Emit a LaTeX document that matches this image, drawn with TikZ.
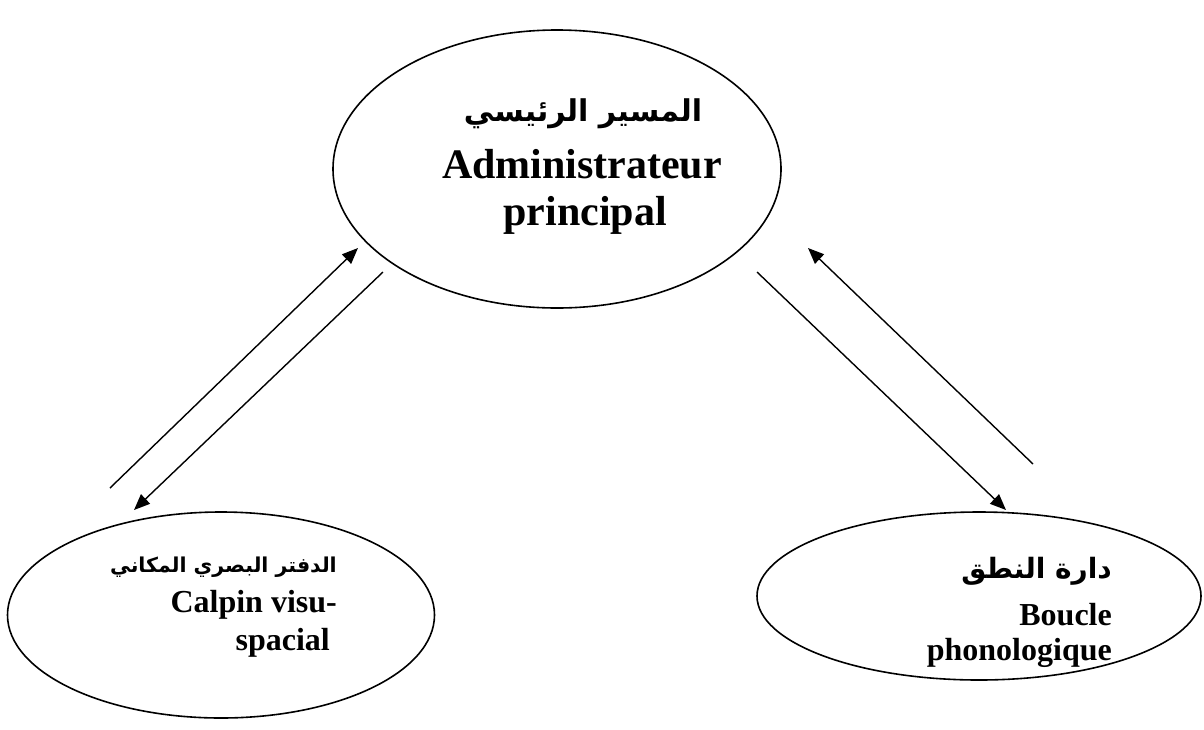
\documentclass[tikz,border=0pt]{standalone}
\usepackage{fontspec}
\setmainfont{Liberation Serif}
\newfontfamily\arabicfont[Script=Arabic]{DejaVu Sans}
\TeXXeTstate=1
\usetikzlibrary{shapes.geometric}
\usetikzlibrary{arrows.meta}
\tikzset{
  bubble/.style={draw,ellipse,line width=1.6pt,inner sep=0pt},
  flow/.style={line width=1.4pt,-{Triangle[length=16pt,width=13pt]}},
  bigtxt/.style={font=\bfseries\fontsize{42}{47}\selectfont,inner sep=0pt,anchor=base},
  smalltxt/.style={font=\bfseries\fontsize{32}{36}\selectfont,inner sep=0pt,anchor=base east},
}

\begin{document}
\begin{tikzpicture}[x=1pt,y=-1pt]
    \useasboundingbox (0,0) rectangle (1204,729);
    % the three ellipses
    \node[bubble,minimum width=448pt,minimum height=278pt] (admin) at (557,169) {};
    \node[bubble,minimum width=427pt,minimum height=206pt] (calpin) at (221,615) {};
    \node[bubble,minimum width=444pt,minimum height=168pt] (boucle) at (979,596) {};
    % their texts
    \node[bigtxt,font=\bfseries\arabicfont\fontsize{30}{36}\selectfont] (adminar) at (583,121) {\beginR المسير  الرئيسي\endR};
    \node[bigtxt] (adminfr) at (582,178) {Administrateur};
    \node[bigtxt] (adminfrb) at (585,225) {principal};
    \node[smalltxt,font=\bfseries\arabicfont\fontsize{20.5}{26}\selectfont] (calpinar) at (337,572) {\beginR الدفتر البصري المكاني\endR};
    \node[smalltxt] (calpinfr) at (337,612) {Calpin visu-};
    \node[smalltxt] (calpinfrb) at (330,650) {spacial};
    \node[smalltxt,font=\bfseries\arabicfont\fontsize{28}{36}\selectfont] (boucear) at (1112,578) {\beginR دارة النطق\endR};
    \node[smalltxt] (bouclefr) at (1112,625) {Boucle};
    \node[smalltxt] (bouclefrb) at (1112,660) {phonologique};
    % arrow ends
    \coordinate (l1s) at (110,488);
    \coordinate (l1e) at (358,248);
    \coordinate (l2s) at (383,272);
    \coordinate (l2e) at (134,510);
    \coordinate (r1s) at (757,272);
    \coordinate (r1e) at (1006,510);
    \coordinate (r2s) at (1033,464);
    \coordinate (r2e) at (808,248);
    \draw[flow] (l1s) -- (l1e);
    \draw[flow] (l2s) -- (l2e);
    \draw[flow] (r1s) -- (r1e);
    \draw[flow] (r2s) -- (r2e);
\end{tikzpicture}
\end{document}
